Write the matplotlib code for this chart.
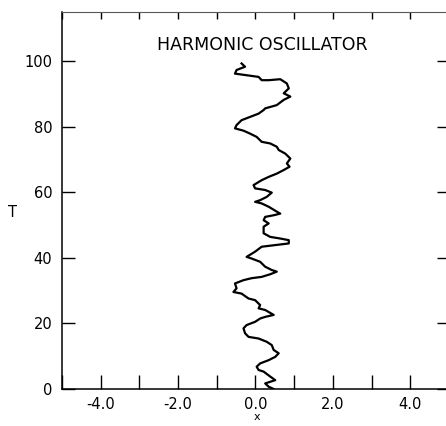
import matplotlib
matplotlib.use("Agg")
import matplotlib.pyplot as plt
from matplotlib.ticker import MultipleLocator, FixedLocator

# path, bottom (T=0) to top
t_vals = [0, 0.7, 1.7, 2.7, 3.8, 5.3, 5.8, 6.8, 7.8, 8.8, 9.8, 10.9, 11.9, 13.4,
          14.4, 15.4, 15.9, 17.0, 18.5, 19.5, 20.5, 21.5, 22.0, 22.6, 24.1, 24.6,
          25.6, 27.1, 27.6, 29.1, 29.6, 30.7, 32.2, 33.2, 33.8, 34.2, 35.0, 35.8,
          36.3, 37.3, 38.8, 39.8, 40.3, 41.9, 43.4, 43.9, 44.4, 45.4, 45.9, 46.4,
          47.5, 49.5, 50.5, 51.5, 52.5, 53.0, 53.5, 54.1, 55.6, 56.6, 57.1, 57.6,
          58.6, 59.9, 60.7, 61.2, 62.2, 63.7, 64.7, 65.7, 66.8, 67.8, 68.8, 70.3,
          71.8, 72.9, 73.9, 74.9, 75.4, 76.9, 77.9, 78.8, 79.5, 80.5, 82.0, 83.0,
          84.0, 85.1, 85.6, 86.6, 88.2, 89.2, 90.2, 91.7, 93.2, 94.5, 94.2, 94.2,
          95.2, 95.5, 96.2, 97.3, 98.3, 99.3]
x_vals = [0.47, 0.34, 0.25, 0.51, 0.38, 0.21, 0.08, 0.03, 0.12, 0.34, 0.51, 0.60,
          0.47, 0.42, 0.29, 0.08, -0.18, -0.27, -0.31, -0.23, -0.01, 0.12, 0.25,
          0.47, 0.25, 0.08, 0.12, -0.01, -0.18, -0.36, -0.57, -0.49, -0.53, -0.31,
          -0.10, 0.16, 0.38, 0.55, 0.42, 0.25, 0.12, -0.10, -0.23, -0.01, 0.16,
          0.51, 0.86, 0.86, 0.64, 0.38, 0.21, 0.21, 0.34, 0.21, 0.25, 0.47, 0.64,
          0.55, 0.34, 0.16, -0.01, 0.12, 0.29, 0.42, 0.25, -0.01, -0.05, 0.16,
          0.34, 0.55, 0.73, 0.88, 0.81, 0.90, 0.77, 0.60, 0.55, 0.38, 0.16, 0.03,
          -0.14, -0.31, -0.53, -0.49, -0.36, -0.14, 0.08, 0.21, 0.25, 0.55, 0.73,
          0.90, 0.73, 0.86, 0.81, 0.64, 0.34, 0.16, 0.08, -0.10, -0.53, -0.49,
          -0.27, -0.36]

x_labels = [-4, -2, 0, 2, 4]
y_labels = [0, 20, 40, 60, 80, 100]

fig = plt.figure(figsize=(4.46, 4.26), dpi=100)
ax = fig.add_axes([62 / 446, 37 / 426, 387 / 446, 377 / 426])

ax.plot(x_vals, t_vals, color="black", lw=1.6)

ax.set_xlim(-5, 5)
ax.set_ylim(0, 115)

ax.xaxis.set_major_locator(FixedLocator(x_labels))
ax.xaxis.set_minor_locator(MultipleLocator(1))
ax.set_xticklabels(["%.1f" % v for v in x_labels])
ax.yaxis.set_major_locator(FixedLocator(y_labels))

ax.tick_params(axis="x", which="both", direction="in", length=10, width=1,
               top=True, labelsize=10.5, pad=6)
ax.tick_params(axis="y", which="both", direction="in", length=9, width=1,
               right=True, labelsize=10.5, pad=7)
for t in ax.xaxis.get_major_ticks() + ax.xaxis.get_minor_ticks():
    t.tick2line.set_markersize(5)

for side in ["left", "bottom"]:
    ax.spines[side].set_linewidth(1.1)
ax.spines["top"].set_linewidth(0.8)
ax.spines["top"].set_color("0.35")

ax.text(0.517, 0.912, "HARMONIC OSCILLATOR", transform=ax.transAxes,
        ha="center", va="center", fontsize=12.5)

ax.set_ylabel("T", rotation=0, fontsize=10.5)
ax.yaxis.set_label_coords(-0.127, 0.448)
ax.set_xlabel("x", fontsize=8)
ax.xaxis.set_label_coords(0.504, -0.061)

fig.savefig("out.png", dpi=100)
